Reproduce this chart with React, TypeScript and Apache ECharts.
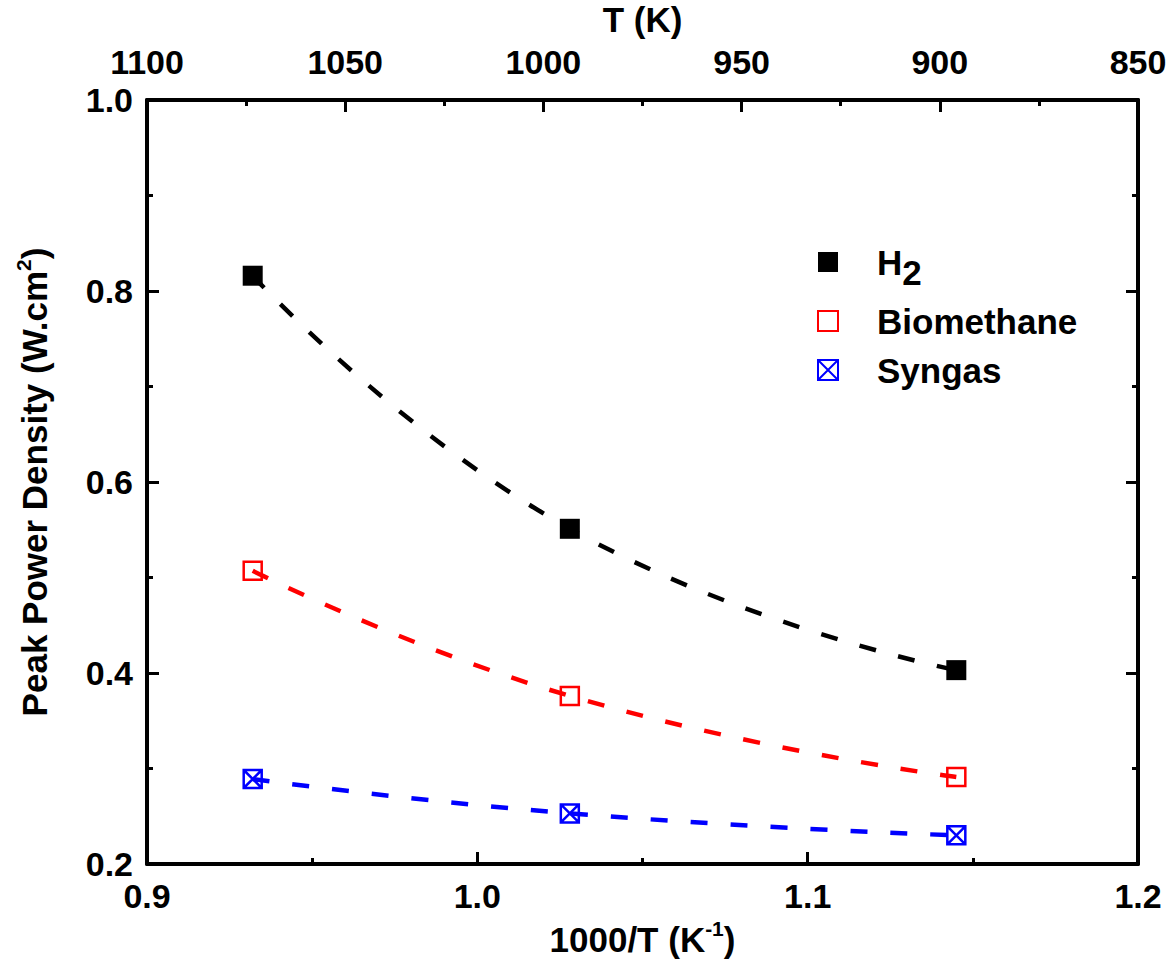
import React, { useEffect, useRef } from 'react';
import * as echarts from 'echarts';

// 1000/T (K^-1) positions of the three measurements
const invT = [0.932, 1.028, 1.145];
// Peak power density (W.cm^2)
const h2 = [0.816, 0.551, 0.403];
const biomethane = [0.507, 0.376, 0.291];
const syngas = [0.289, 0.253, 0.23];

const seriesNames = ['H2', 'Biomethane', 'Syngas'];
const seriesColors = ['#000000', '#ff0000', '#0000ff'];

const FONT = '"Liberation Sans", Arial, Helvetica, sans-serif';

const pairs = (ys: number[]) => invT.map((x, i) => [x, ys[i]]);

const crossBox = 'path://M0,0L20,0L20,20L0,20Z M0,0L20,20 M20,0L0,20';

export default function App() {
  const ref = useRef<HTMLDivElement>(null);

  useEffect(() => {
    if (!ref.current) return;
    const chart = echarts.init(ref.current, null, { renderer: 'svg' });

    const axisLine = { show: true, lineStyle: { color: '#000', width: 4 } };
    const tickStyle = { color: '#000', width: 3 };
    const labelStyle = {
      color: '#000',
      fontSize: 34,
      fontWeight: 'bold' as const,
      fontFamily: FONT,
    };
    const nameStyle = {
      color: '#000',
      fontSize: 35,
      fontWeight: 'bold' as const,
      fontFamily: FONT,
      lineHeight: 42,
      rich: {
        sup: {
          fontSize: 21,
          fontWeight: 'bold' as const,
          fontFamily: FONT,
          color: '#000',
          verticalAlign: 'top' as const,
          lineHeight: 22,
        },
      },
    };

    const fitLine = (name: string, ys: number[], color: string) => ({
      name,
      type: 'line',
      data: pairs(ys),
      smooth: 0.5,
      showSymbol: false,
      symbol: 'none',
      silent: true,
      z: 2,
      lineStyle: { color, width: 4.5, type: [17, 23], cap: 'butt' },
    });

    chart.setOption({
      animation: false,
      backgroundColor: '#ffffff',
      grid: {
        left: 147,
        right: 31,
        top: 100,
        bottom: 95,
        containLabel: false,
        outerBoundsMode: 'none',
      },
      legend: {
        orient: 'vertical',
        left: 817,
        top: 245,
        padding: 0,
        itemWidth: 20,
        itemHeight: 20,
        itemGap: 14,
        selectedMode: false,
        data: seriesNames,
        formatter: (n: string) => (n === 'H2' ? '{b|H}{sub|2}' : '{b|' + n + '}'),
        textStyle: {
          color: '#000',
          fontSize: 35,
          fontWeight: 'bold',
          fontFamily: FONT,
          padding: [0, 0, 0, 34],
          rich: {
            b: {
              fontSize: 35,
              fontWeight: 'bold',
              fontFamily: FONT,
              color: '#000',
              lineHeight: 34,
              verticalAlign: 'top',
            },
            sub: {
              fontSize: 35,
              fontWeight: 'bold',
              fontFamily: FONT,
              color: '#000',
              lineHeight: 34,
              verticalAlign: 'top',
              padding: [10, 0, 0, 0],
            },
          },
        },
      },
      xAxis: [
        {
          type: 'value',
          position: 'bottom',
          min: 0.9,
          max: 1.2,
          interval: 0.1,
          name: '1000/T (K{sup|-1})',
          nameLocation: 'middle',
          nameGap: 54,
          nameTextStyle: nameStyle,
          axisLine,
          axisTick: { show: true, inside: true, length: 12, lineStyle: tickStyle },
          minorTick: { show: true, splitNumber: 2, length: 6, lineStyle: tickStyle },
          splitLine: { show: false },
          axisLabel: { ...labelStyle, margin: 15, formatter: (v: number) => v.toFixed(1) },
        },
        {
          type: 'value',
          position: 'top',
          min: 850,
          max: 1100,
          interval: 50,
          inverse: true,
          name: 'T (K)',
          nameLocation: 'middle',
          nameGap: 50,
          nameTextStyle: nameStyle,
          axisLine,
          axisTick: { show: true, inside: true, length: 12, lineStyle: tickStyle },
          minorTick: { show: true, splitNumber: 2, length: 6, lineStyle: tickStyle },
          splitLine: { show: false },
          axisLabel: { ...labelStyle, margin: 21, formatter: (v: number) => String(v) },
        },
      ],
      yAxis: [
        {
          type: 'value',
          position: 'left',
          min: 0.2,
          max: 1.0,
          interval: 0.2,
          name: 'Peak Power Density (W.cm{sup|2})',
          nameLocation: 'middle',
          nameGap: 92,
          nameRotate: 90,
          nameTextStyle: nameStyle,
          axisLine,
          axisTick: { show: true, inside: true, length: 12, lineStyle: tickStyle },
          minorTick: { show: true, splitNumber: 2, length: 6, lineStyle: tickStyle },
          splitLine: { show: false },
          axisLabel: { ...labelStyle, margin: 14, formatter: (v: number) => v.toFixed(1) },
        },
        {
          type: 'value',
          position: 'right',
          min: 0.2,
          max: 1.0,
          interval: 0.2,
          axisLine,
          axisTick: { show: true, inside: true, length: 12, lineStyle: tickStyle },
          minorTick: { show: true, splitNumber: 2, length: 6, lineStyle: tickStyle },
          splitLine: { show: false },
          axisLabel: { show: false },
        },
      ],
      series: [
        fitLine('H2 fit', h2, seriesColors[0]),
        fitLine('Biomethane fit', biomethane, seriesColors[1]),
        fitLine('Syngas fit', syngas, seriesColors[2]),
        {
          name: 'H2',
          type: 'scatter',
          data: pairs(h2),
          symbol: 'rect',
          symbolSize: 20,
          z: 5,
          itemStyle: { color: seriesColors[0], opacity: 1 },
        },
        {
          name: 'Biomethane',
          type: 'scatter',
          data: pairs(biomethane),
          symbol: 'rect',
          symbolSize: 18,
          z: 5,
          itemStyle: {
            color: 'rgba(255,255,255,0)',
            borderColor: seriesColors[1],
            borderWidth: 2.5,
            opacity: 1,
          },
        },
        {
          name: 'Syngas',
          type: 'scatter',
          data: pairs(syngas),
          symbol: crossBox,
          symbolSize: 18,
          z: 5,
          itemStyle: {
            color: 'rgba(255,255,255,0)',
            borderColor: seriesColors[2],
            borderWidth: 2.5,
            opacity: 1,
          },
        },
      ],
    });

    return () => chart.dispose();
  }, []);

  return (
    <div
      ref={ref}
      style={{ position: 'fixed', left: 0, top: 0, width: 1169, height: 959, background: '#fff' }}
    />
  );
}
